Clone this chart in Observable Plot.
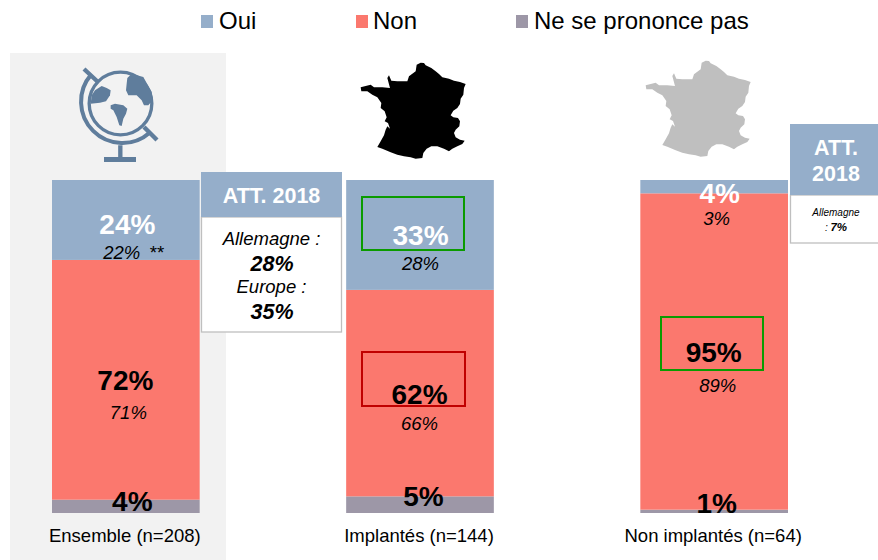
<!DOCTYPE html>
<html><head><meta charset="utf-8">
<script src="https://cdn.jsdelivr.net/npm/d3@7"></script>
<script src="https://cdn.jsdelivr.net/npm/@observablehq/plot@0.6"></script>
<style>html,body{margin:0;padding:0;background:#fff}svg{display:block}</style>
</head><body><div id="chart"></div>
<script>
const groups = ["Ensemble (n=208)", "Implantés (n=144)", "Non implantés (n=64)"];
const series = ["Oui", "Non", "Ne se prononce pas"];
const colors = ["#95aeca", "#fb786e", "#9d97a7"];
const oui = [24, 33, 4];
const non = [72, 62, 95];
const nsp = [4, 5, 1];
const oui2018 = ["22%\u00a0\u2009**", "28%", "3%"];
const non2018 = ["71%", "66%", "89%"];

const font = "'Liberation Sans', Arial, sans-serif";
const rows = groups.flatMap((group, i) => [
  {group, series: series[2], value: nsp[i]},
  {group, series: series[1], value: non[i]},
  {group, series: series[0], value: oui[i]}
]);

// pixel nudges of the printed labels, per group: [dx, dy]
const nudgeOui = [[1, 5], [0, 1], [5, 7]];
const nudgeNon = [[-1, 1], [-1, 1], [-1, 1]];
const nudgeNsp = [[6, -5], [3, -8], [2, -8]];
const nudgeOui18 = [[7, 33], [0, 29], [2, 32]];
const nudgeNon18 = [[2, 33], [-1, 30], [3, 34]];

function label(text, group, y, [dx, dy], opts) {
  return Plot.text([text], {x: () => group, y: () => y, text: d => d, dx, dy,
    textAnchor: "middle", lineAnchor: "middle", ...opts});
}
const labelMarks = groups.flatMap((g, i) => {
  const mNsp = nsp[i] / 2, mNon = nsp[i] + non[i] / 2, mOui = nsp[i] + non[i] + oui[i] / 2;
  const bold = {fontSize: 28, fontWeight: "bold", fill: "#000"};
  const ital = {fontSize: 18.5, fontStyle: "italic", fill: "#000"};
  return [
    label(oui[i] + "%", g, mOui, nudgeOui[i], {...bold, fill: "#fff"}),
    label(oui2018[i], g, mOui, nudgeOui18[i], ital),
    label(non[i] + "%", g, mNon, nudgeNon[i], bold),
    label(non2018[i], g, mNon, nudgeNon18[i], ital),
    label(nsp[i] + "%", g, mNsp, nudgeNsp[i], bold)
  ];
});

const francePath = "M188,20L200,14L210,15L215,22L232,30L245,40L255,48L265,58L285,62L300,68L318,72L335,78L330,90L328,110L320,122L318,138L310,150L298,158L290,172L298,178L312,180L318,190L316,205L305,215L300,225L305,238L318,245L332,248L325,258L310,265L295,272L285,280L270,272L250,265L232,265L218,272L208,285L205,300L185,302L170,298L150,295L130,290L110,283L85,272L70,267L80,250L90,232L95,215L100,205L108,212L102,195L92,190L98,178L92,160L80,150L82,135L70,118L55,110L40,100L22,100L20,88L35,84L50,80L60,88L85,88L108,90L100,60L105,52L112,68L130,70L160,70L165,55L185,40Z";

function svgText(g, str, x, y, o = {}) {
  return g.append("text").attr("x", x).attr("y", y).attr("dy", "0.35em")
    .attr("text-anchor", o.anchor || "middle")
    .attr("font-size", o.size).attr("font-weight", o.weight || null)
    .attr("font-style", o.style || null).attr("fill", o.fill || "#000").text(str);
}

const backdrop = () => {
  const g = d3.create("svg:g");
  g.append("rect").attr("x", 10).attr("y", 53).attr("width", 216).attr("height", 507).attr("fill", "#f2f2f2");
  // globe icon
  const c = "#5f7d9c";
  const ic = g.append("g").attr("transform", "translate(70,62) scale(0.3333)");
  ic.append("circle").attr("cx", 151.5).attr("cy", 124.5).attr("r", 94).attr("fill", "none").attr("stroke", c).attr("stroke-width", 10);
  ic.append("path").attr("d", "M64,37A124,124 0 0 0 239,212").attr("fill", "none").attr("stroke", c).attr("stroke-width", 12);
  ic.append("path").attr("d", "M42,21L84,60M222,195L261,234M151,250V290").attr("fill", "none").attr("stroke", c).attr("stroke-width", 13);
  ic.append("rect").attr("x", 102).attr("y", 285).attr("width", 96).attr("height", 15).attr("fill", c);
  ic.append("path").attr("fill", c).attr("d", "M172,48L185,35L220,45L245,90L248,115L235,130L222,130L215,115L200,100L175,100L168,85L170,65Z");
  ic.append("path").attr("fill", c).attr("d", "M65,100L75,85L95,72L110,78L122,85L120,100L108,118L90,122L62,125Z");
  ic.append("path").attr("fill", c).attr("d", "M122,130L135,125L160,130L172,140L168,155L160,170L155,192L148,190L140,165L130,145L122,140Z");
  // France maps
  g.append("path").attr("d", francePath).attr("fill", "#000").attr("transform", "translate(354,58) scale(0.3333)");
  g.append("path").attr("d", francePath).attr("fill", "#bfbfbf").attr("transform", "translate(639,56) scale(0.3333)");
  // legend
  const lx = [[201, 219], [356, 373], [516, 534]];
  series.forEach((s, i) => {
    g.append("rect").attr("x", lx[i][0]).attr("y", 15).attr("width", 12).attr("height", 13).attr("fill", colors[i]);
    svgText(g, s, lx[i][1], 21, {anchor: "start", size: 24});
  });
  return g.node();
};

const overlay = () => {
  const g = d3.create("svg:g");
  // evolution frames
  [[362, 197, 102, 53, "#0a9b00"], [362, 352, 103, 54, "#c00000"], [661, 317, 102, 53, "#0a9b00"]].forEach(([x, y, w, h, s]) =>
    g.append("rect").attr("x", x).attr("y", y).attr("width", w).attr("height", h)
      .attr("fill", "none").attr("stroke", s).attr("stroke-width", 2));
  // ATT. 2018 box, left
  g.append("rect").attr("x", 201.5).attr("y", 217).attr("width", 140).attr("height", 115).attr("fill", "#fff").attr("stroke", "#bfbfbf").attr("stroke-width", 1.3);
  g.append("rect").attr("x", 201).attr("y", 172).attr("width", 141).attr("height", 45).attr("fill", colors[0]);
  svgText(g, "ATT. 2018", 271.5, 195, {size: 21.5, weight: "bold", fill: "#fff"});
  svgText(g, "Allemagne :", 271.5, 239, {size: 18.5, style: "italic"});
  svgText(g, "28%", 272, 263, {size: 21.5, style: "italic", weight: "bold"});
  svgText(g, "Europe :", 271.5, 287, {size: 18.5, style: "italic"});
  svgText(g, "35%", 272, 311, {size: 21.5, style: "italic", weight: "bold"});
  // ATT. 2018 box, right
  g.append("rect").attr("x", 790.5).attr("y", 195).attr("width", 90).attr("height", 48).attr("fill", "#fff").attr("stroke", "#bfbfbf").attr("stroke-width", 1.3);
  g.append("rect").attr("x", 790).attr("y", 124).attr("width", 88).attr("height", 71).attr("fill", colors[0]);
  svgText(g, "ATT.", 836, 147, {size: 21.5, weight: "bold", fill: "#fff"});
  svgText(g, "2018", 836, 173, {size: 21.5, weight: "bold", fill: "#fff"});
  svgText(g, "Allemagne", 836, 212, {size: 10, style: "italic"});
  const t = svgText(g, ": ", 836, 227, {size: 10, style: "italic"});
  t.append("tspan").attr("font-weight", "bold").attr("font-size", 11.5).text("7%");
  return g.node();
};

const chart = Plot.plot({
  width: 878, height: 560,
  marginTop: 180, marginBottom: 47, marginLeft: 52, marginRight: 90,
  style: {fontFamily: font, background: "#fff", overflow: "hidden"},
  x: {type: "band", domain: groups, paddingInner: 0.498, paddingOuter: 0, round: false, axis: null},
  y: {domain: [0, 100], axis: null},
  color: {domain: series, range: colors},
  marks: [
    backdrop,
    Plot.barY(rows, {x: "group", y: "value", fill: "series", order: [series[2], series[1], series[0]]}),
    Plot.axisX({anchor: "bottom", tickSize: 0, tickPadding: 15, dx: -1.5, fontSize: 18.5, label: null, fill: "#000"}),
    overlay,
    ...labelMarks
  ]
});
document.getElementById("chart").append(chart);
</script></body></html>
